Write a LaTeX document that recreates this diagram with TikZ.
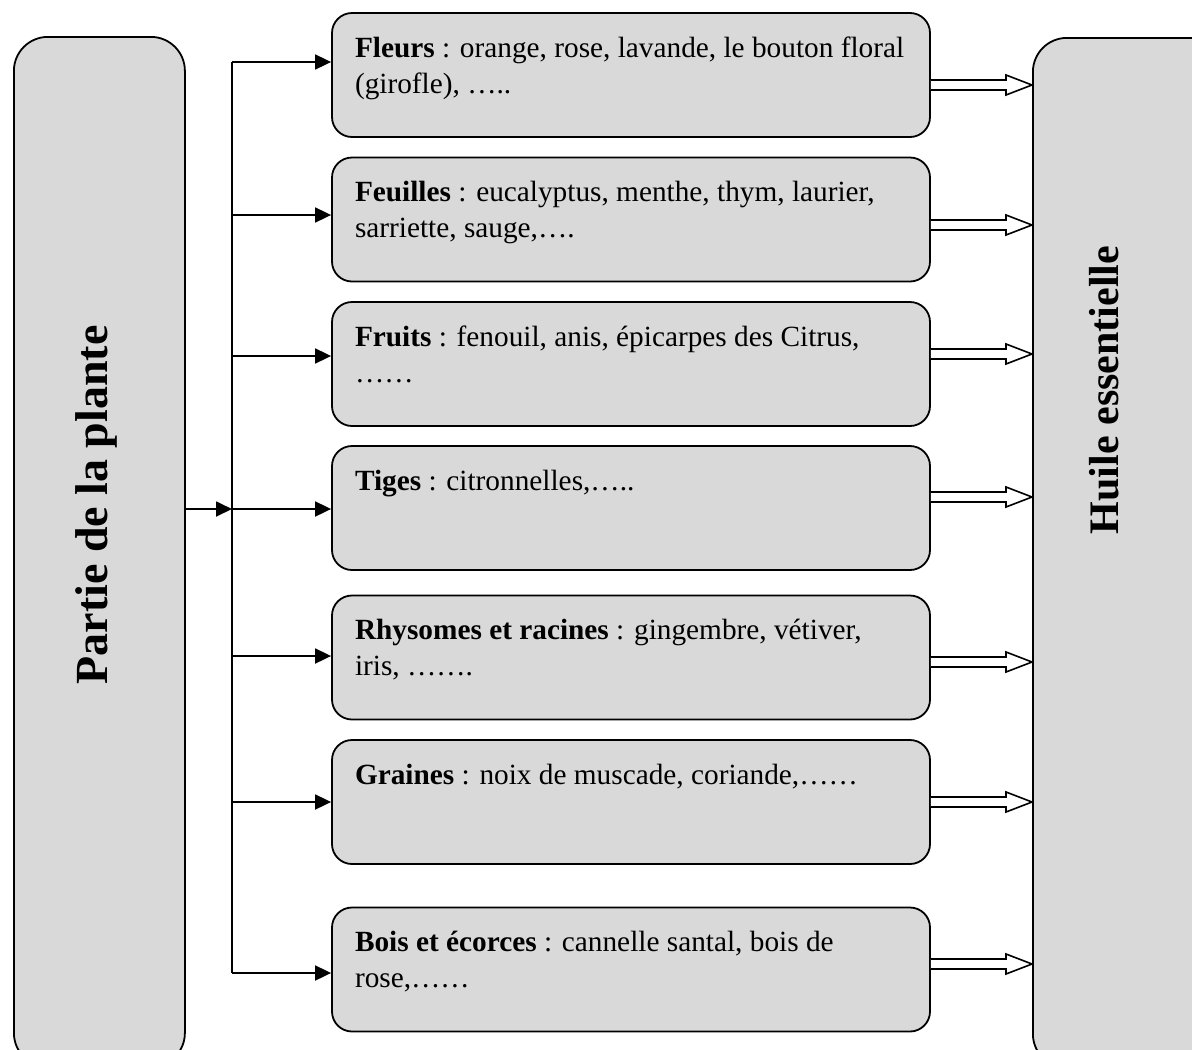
\documentclass[tikz,border=0pt]{standalone}
\usepackage{fontspec}
\setmainfont{Liberation Serif}
\usetikzlibrary{arrows.meta,calc}
\definecolor{boxgray}{HTML}{D9D9D9}
\newcommand\dblarr[1]{%
  \draw[dbl] ($(#1)+(0,-5)$) -- ($(#1 -| R.west)+(-26,-5)$) -- ++(0,-5)
    -- (#1 -| R.west) -- ($(#1 -| R.west)+(-26,10)$) -- ++(0,-5) -- ($(#1)+(0,5)$);}
\newcommand\itemtext[2]{\parbox[t][86pt][t]{552pt}{\strut\mbox{#1}\\\mbox{#2}}}
\begin{document}
\begin{tikzpicture}[x=1pt,y=-1pt,
  box/.style={draw, line width=1.8pt, fill=boxgray, rounded corners=20pt,
    inner xsep=23pt, inner ysep=19pt, font=\fontsize{29.3}{36}\selectfont},
  big/.style={draw, line width=1.8pt, fill=boxgray, rounded corners=34pt},
  arr/.style={line width=1.8pt, -{Triangle[length=16pt,width=15pt]}},
  dbl/.style={line width=1.6pt, fill=white, line join=miter},
  vlabel/.style={rotate=90, anchor=base, font=\fontsize{46}{50}\selectfont\bfseries}]
\clip (0,0) rectangle (1192,1050);
\fill[white] (0,0) rectangle (1192,1050);

% side boxes
\node[big, minimum width=171pt, minimum height=1030pt, anchor=north west] (L) at (13,36) {};
\node[big, minimum width=200pt, minimum height=1030pt, anchor=north west] (R) at (1032,37) {};
\node[vlabel] (Ltxt) at (107,505) {Partie de la plante};
\node[vlabel, font=\fontsize{42}{48}\selectfont\bfseries] (Rtxt) at (1118,390) {Huile essentielle};

% middle boxes
\node[box] (b1) at (631,75) {\itemtext{\textbf{Fleurs} : orange, rose, lavande, le bouton floral}{(girofle), …..}};
\node[box] (b2) at (631,219.5) {\itemtext{\textbf{Feuilles} : eucalyptus, menthe, thym, laurier,}{sarriette, sauge,….}};
\node[box] (b3) at (631,364) {\itemtext{\textbf{Fruits} : fenouil, anis, épicarpes des Citrus,}{……}};
\node[box] (b4) at (631,508) {\itemtext{\textbf{Tiges} : citronnelles,…..}{}};
\node[box] (b5) at (631,657.5) {\itemtext{\textbf{Rhysomes et racines} : gingembre, vétiver,}{iris, …….}};
\node[box] (b6) at (631,802) {\itemtext{\textbf{Graines} : noix de muscade, coriande,……}{}};
\node[box] (b7) at (631,969.5) {\itemtext{\textbf{Bois et écorces} : cannelle santal, bois de}{rose,……}};

% trunk
\coordinate (j1) at (232,62);
\coordinate (j2) at (232,215);
\coordinate (j3) at (232,356);
\coordinate (j4) at (232,509);
\coordinate (j5) at (232,656);
\coordinate (j6) at (232,802);
\coordinate (j7) at (232,973);
\draw[line width=1.8pt] (j1) -- (j7);
\draw[arr] (L.east |- j4) -- (j4);
\foreach \i in {1,...,7}{\draw[arr] (j\i) -- (j\i -| b\i.west);}

% double arrows
\coordinate (y1) at (0,85);
\coordinate (y2) at (0,225);
\coordinate (y3) at (0,354);
\coordinate (y4) at (0,497);
\coordinate (y5) at (0,662);
\coordinate (y6) at (0,802);
\coordinate (y7) at (0,964);
\foreach \i in {1,...,7}{\coordinate (d\i) at (b\i.east |- y\i); \dblarr{d\i}}
\end{tikzpicture}
\end{document}
